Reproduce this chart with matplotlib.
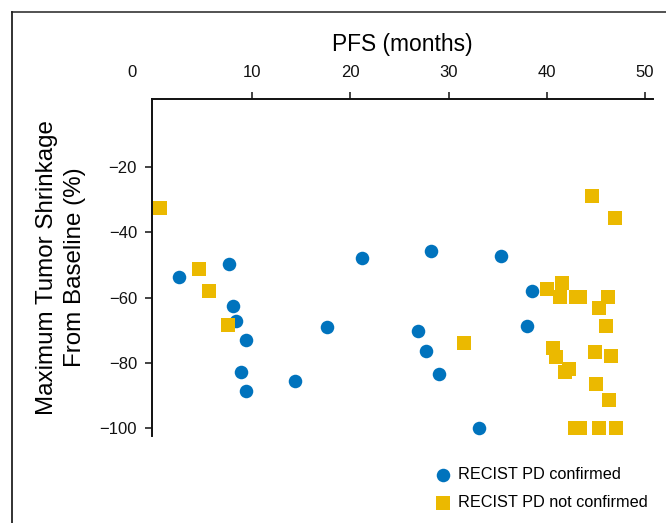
import matplotlib
matplotlib.use("Agg")
import matplotlib.pyplot as plt
from matplotlib.lines import Line2D
from matplotlib import transforms

# ---- data ----
confirmed_pfs = [2.5, 7.6, 8.0, 8.4, 9.4, 8.9, 9.4, 14.4, 17.6, 21.2, 26.9, 27.7,
                 28.2, 29.0, 33.1, 35.3, 38.0, 38.5]
confirmed_shrink = [-53.7, -49.7, -62.7, -67.1, -73.1, -82.8, -88.8, -85.7, -69.2,
                    -47.8, -70.2, -76.4, -45.8, -83.5, -100, -47.3, -68.8, -57.9]

notconf_pfs = [0.6, 4.6, 5.6, 7.5, 31.6, 44.6, 47.0, 40.0, 41.6, 41.3, 43.0, 43.4,
               46.2, 45.3, 46.0, 40.6, 40.9, 44.9, 46.5, 42.3, 41.9, 45.0, 46.3,
               42.9, 43.4, 45.3, 47.05]
notconf_shrink = [-32.5, -51.2, -57.9, -68.4, -73.9, -28.7, -35.5, -57.3, -55.5, -59.7,
                  -59.7, -59.7, -59.7, -63.1, -68.6, -75.4, -78.2, -76.7, -77.9, -82.0,
                  -82.9, -86.5, -91.4, -100, -100, -100, -100]

xticks = [0, 10, 20, 30, 40, 50]
xticklabels = ["0", "10", "20", "30", "40", "50"]
yticks = [-20, -40, -60, -80, -100]
yticklabels = ["\u221220", "\u221240", "\u221260", "\u221280", "\u2212100"]

label_confirmed = "RECIST PD confirmed"
label_notconf = "RECIST PD not confirmed"
xlabel = "PFS (months)"
ylabel = "Maximum Tumor Shrinkage\nFrom Baseline (%)"

BLUE = "#0073BD"
YELLOW = "#EBB900"

W, H = 666, 523
fig = plt.figure(figsize=(W / 100, H / 100), dpi=100)
fig.patch.set_facecolor("white")

left_px, right_px, top_px, bottom_px = 152.3, 653.3, 99.3, 436.0
ax = fig.add_axes([left_px / W, (H - bottom_px) / H,
                   (right_px - left_px) / W, (bottom_px - top_px) / H])

ax.scatter(confirmed_pfs, confirmed_shrink, s=95, marker="o", color=BLUE,
           linewidths=0, zorder=3, clip_on=False, label=label_confirmed)
ax.scatter(notconf_pfs, notconf_shrink, s=100, marker="s", color=YELLOW,
           linewidths=0, zorder=4, clip_on=False, label=label_notconf)

ax.set_xlim(-0.17, 50.85)
ax.set_ylim(-102.55, 0.9)

for s in ["right", "bottom"]:
    ax.spines[s].set_visible(False)
for s in ["left", "top"]:
    ax.spines[s].set_linewidth(1.4)
    ax.spines[s].set_color("#111111")

tick_font = dict(family=["Liberation Sans", "DejaVu Sans"], size=12)
ax.xaxis.tick_top()
ax.set_xticks(xticks)
ax.set_xticklabels(xticklabels, **tick_font)
ax.set_yticks(yticks)
ax.set_yticklabels(yticklabels, **tick_font)
ax.tick_params(axis="x", direction="out", length=5, width=1.1, pad=9, colors="#111111")
ax.tick_params(axis="y", direction="out", length=5, width=1.1, pad=6, colors="#111111")

# hide tick mark at 0 and shift its label left as in the reference
xt0 = ax.xaxis.get_major_ticks()[0]
xt0.tick2line.set_visible(False)
xt0.tick1line.set_visible(False)
offset = transforms.ScaledTranslation(-22 / 100, 0, fig.dpi_scale_trans)
xt0.label2.set_transform(xt0.label2.get_transform() + offset)

label_font = dict(family=["Liberation Sans", "DejaVu Sans"])
ax.xaxis.set_label_position("top")
ax.set_xlabel(xlabel, fontsize=16.4, labelpad=10, **label_font)
ax.set_ylabel(ylabel, fontsize=17.4, labelpad=10, linespacing=1.35, **label_font)

leg = fig.legend(loc="upper left", bbox_to_anchor=(434.6 / W, 1 - 467 / H),
                 frameon=False, borderpad=0, handlelength=1.0, handletextpad=0.45,
                 labelspacing=0.8, borderaxespad=0,
                 prop=dict(family=["Liberation Sans", "DejaVu Sans"], size=11.7))

# outer frame lines (top and left)
fig.add_artist(Line2D([11.7 / W, 1.0], [1 - 12.3 / H, 1 - 12.3 / H],
                      transform=fig.transFigure, color="#444444", lw=1.3))
fig.add_artist(Line2D([11.7 / W, 11.7 / W], [1 - 12.3 / H, 0.0],
                      transform=fig.transFigure, color="#222222", lw=1.3))

fig.savefig("out.png", dpi=100, facecolor="white")
